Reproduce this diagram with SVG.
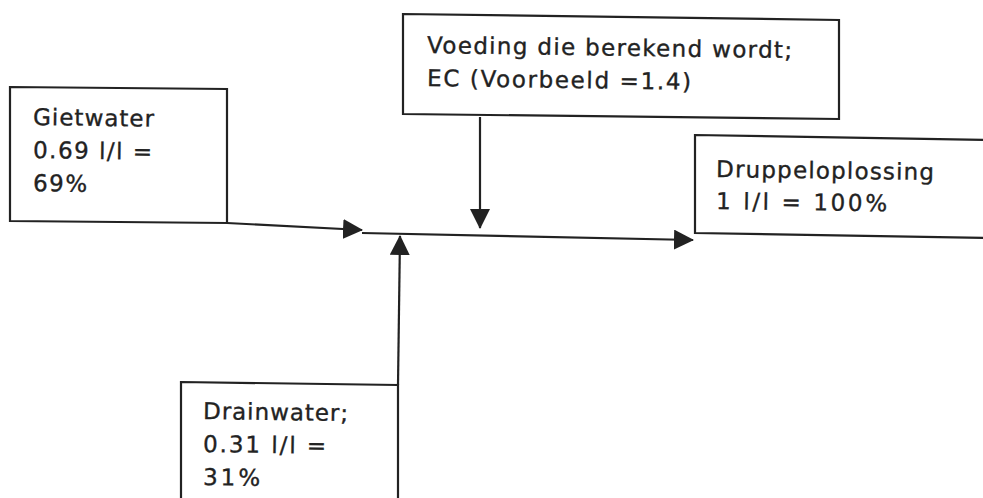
<svg xmlns="http://www.w3.org/2000/svg" width="983" height="498" viewBox="0 0 983 498">
<defs>
<style>
.box{fill:#fff;stroke:#222;stroke-width:2.2;stroke-linejoin:miter}
.t{font-family:"DejaVu Sans","Liberation Sans",Arial,sans-serif;font-size:23px;fill:#222;stroke:#222;stroke-width:0.35}
.c{fill:none;stroke:#222;stroke-width:2.2}
</style>
<marker id="ah" markerUnits="userSpaceOnUse" markerWidth="20" markerHeight="20" viewBox="0 0 20 20" refX="19" refY="10" orient="auto">
<path d="M0,0 L20,10 L0,20 z" fill="#222"/>
</marker>
</defs>
<rect width="983" height="498" fill="#fff"/>
<g id="gietwater">
<polygon class="box" points="10,87 227,89 227,223 10,221"/>
<text class="t" x="33" y="125" textLength="121" lengthAdjust="spacing" transform="rotate(0.8 33 125)">Gietwater</text>
<text class="t" x="33" y="158" textLength="119" lengthAdjust="spacing" transform="rotate(0.8 33 158)">0.69 l/l =</text>
<text class="t" x="33" y="191" textLength="54" lengthAdjust="spacing" transform="rotate(0.8 33 191)">69%</text>
</g>
<g id="voeding">
<polygon class="box" points="403,14 839,20 839,119 403,114"/>
<text class="t" x="427" y="53" textLength="365" lengthAdjust="spacing" transform="rotate(0.8 427 53)">Voeding die berekend wordt;</text>
<text class="t" x="427" y="86" textLength="264" lengthAdjust="spacing" transform="rotate(0.8 427 86)">EC (Voorbeeld =1.4)</text>
</g>
<g id="druppeloplossing">
<polygon class="box" points="695,135 990,140 990,238 695,233"/>
<text class="t" x="716" y="177" textLength="218" lengthAdjust="spacing" transform="rotate(0.8 716 177)">Druppeloplossing</text>
<text class="t" x="716" y="209" textLength="171" lengthAdjust="spacing" transform="rotate(0.8 716 209)">1 l/l = 100%</text>
</g>
<g id="drainwater">
<polygon class="box" points="181,382 398,385 398,505 181,505"/>
<text class="t" x="203" y="419" textLength="145" lengthAdjust="spacing" transform="rotate(0.8 203 419)">Drainwater;</text>
<text class="t" x="203" y="452" textLength="123" lengthAdjust="spacing" transform="rotate(0.8 203 452)">0.31 l/l =</text>
<text class="t" x="203" y="485" textLength="57" lengthAdjust="spacing" transform="rotate(0.8 203 485)">31%</text>
</g>
<g id="connectors">
<path class="c" d="M227,223 L362,230" marker-end="url(#ah)"/>
<path class="c" d="M480,117 L480,228" marker-end="url(#ah)"/>
<path class="c" d="M362,233 L693,240" marker-end="url(#ah)"/>
<path class="c" d="M398,385 L400,236" marker-end="url(#ah)"/>
</g>
</svg>
